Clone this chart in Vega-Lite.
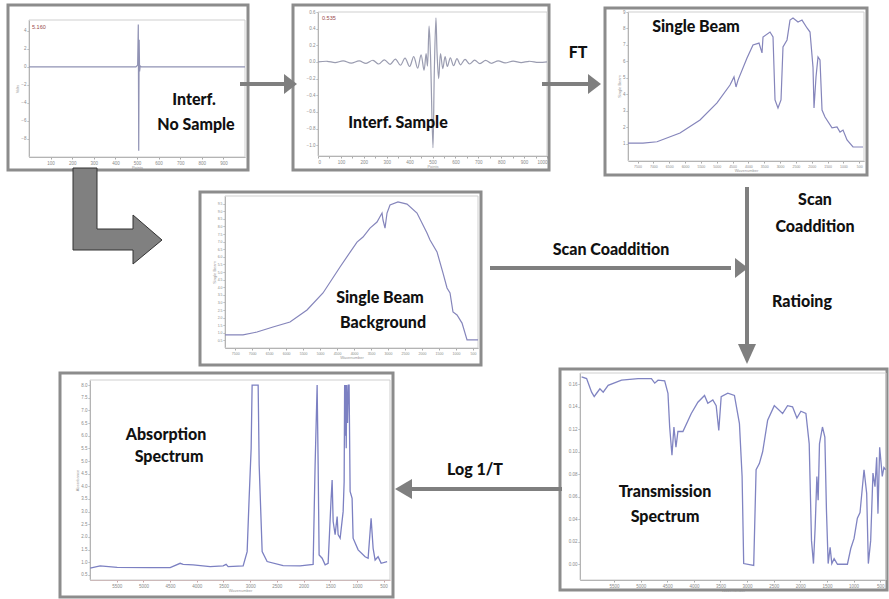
{
  "$schema": "https://vega.github.io/schema/vega-lite/v6.json",
  "width": 889,
  "height": 599,
  "autosize": {"type": "none"},
  "padding": 0,
  "background": "white",
  "config": {
    "view": {"stroke": null},
    "axis": {"labelFontSize": 4.5, "labelColor": "#8a8a8a", "tickColor": "#aaa", "domainColor": "#999", "tickSize": 2, "labelPadding": 1, "grid": false, "titleFontSize": 4, "titleColor": "#999", "titlePadding": 1, "labelFont": "Liberation Sans", "titleFont": "Liberation Sans", "titleFontWeight": "normal"}
  },
  "datasets": {
    "frames": [
      {"x": 8, "x2": 248, "y": 5, "y2": 170},
      {"x": 293, "x2": 549, "y": 5, "y2": 170},
      {"x": 605, "x2": 867, "y": 8, "y2": 175},
      {"x": 200, "x2": 481, "y": 192, "y2": 365},
      {"x": 60, "x2": 393, "y": 373, "y2": 597},
      {"x": 560, "x2": 887, "y": 369, "y2": 590}
    ],
    "plots": [
      {"x": 29, "x2": 245, "y": 20, "y2": 157},
      {"x": 318, "x2": 547, "y": 12, "y2": 156},
      {"x": 628, "x2": 864, "y": 12, "y2": 161},
      {"x": 225, "x2": 478, "y": 196, "y2": 348},
      {"x": 90, "x2": 390, "y": 380, "y2": 580},
      {"x": 580, "x2": 886, "y": 373, "y2": 580}
    ],
    "p1": [
      {"pt": 0, "v": 0}, {"pt": 495, "v": 0}, {"pt": 503, "v": 0.2}, {"pt": 506, "v": 4.7}, {"pt": 508, "v": -9.3},
      {"pt": 510, "v": 3.0}, {"pt": 512, "v": -0.5}, {"pt": 515, "v": 0.1}, {"pt": 520, "v": 0}, {"pt": 1000, "v": 0}
    ],
    "p2": [
      {"pt": 0, "v": 0}, {"pt": 40, "v": 0.008}, {"pt": 75, "v": -0.008}, {"pt": 110, "v": 0.012}, {"pt": 145, "v": -0.015},
      {"pt": 180, "v": 0.012}, {"pt": 210, "v": -0.018}, {"pt": 240, "v": 0.02}, {"pt": 265, "v": -0.025}, {"pt": 290, "v": 0.025},
      {"pt": 315, "v": -0.03}, {"pt": 338, "v": 0.035}, {"pt": 360, "v": -0.04}, {"pt": 380, "v": 0.045}, {"pt": 400, "v": -0.055},
      {"pt": 418, "v": 0.065}, {"pt": 435, "v": -0.075}, {"pt": 450, "v": 0.085}, {"pt": 463, "v": -0.1}, {"pt": 472, "v": 0.1},
      {"pt": 478, "v": -0.05}, {"pt": 485, "v": 0.43}, {"pt": 491, "v": 0.1}, {"pt": 502, "v": -1.03}, {"pt": 508, "v": -0.1},
      {"pt": 515, "v": 0.53}, {"pt": 520, "v": 0.1}, {"pt": 527, "v": -0.2}, {"pt": 535, "v": 0.1}, {"pt": 545, "v": -0.08},
      {"pt": 555, "v": 0.065}, {"pt": 565, "v": -0.055}, {"pt": 578, "v": 0.05}, {"pt": 592, "v": -0.045}, {"pt": 607, "v": 0.04},
      {"pt": 622, "v": -0.035}, {"pt": 642, "v": 0.03}, {"pt": 662, "v": -0.025}, {"pt": 684, "v": 0.022}, {"pt": 707, "v": -0.02},
      {"pt": 732, "v": 0.018}, {"pt": 757, "v": -0.016}, {"pt": 787, "v": 0.013}, {"pt": 817, "v": -0.012}, {"pt": 852, "v": 0.01},
      {"pt": 887, "v": -0.008}, {"pt": 922, "v": 0.008}, {"pt": 962, "v": -0.006}, {"pt": 1000, "v": 0}
    ],
    "p3": [
      {"wn": 7800, "v": 1.03}, {"wn": 7326, "v": 1.03}, {"wn": 6884, "v": 1.11}, {"wn": 6158, "v": 1.64}, {"wn": 5527, "v": 2.43},
      {"wn": 4990, "v": 3.47}, {"wn": 4580, "v": 4.56}, {"wn": 4454, "v": 5.05}, {"wn": 4390, "v": 4.44}, {"wn": 4327, "v": 4.86},
      {"wn": 4043, "v": 6.2}, {"wn": 3854, "v": 6.99}, {"wn": 3664, "v": 7.11}, {"wn": 3570, "v": 6.51}, {"wn": 3538, "v": 7.48},
      {"wn": 3317, "v": 7.78}, {"wn": 3222, "v": 7.48}, {"wn": 3159, "v": 3.65}, {"wn": 3065, "v": 3.16}, {"wn": 2970, "v": 3.65},
      {"wn": 2907, "v": 6.87}, {"wn": 2780, "v": 7.3}, {"wn": 2686, "v": 8.51}, {"wn": 2591, "v": 8.63}, {"wn": 2433, "v": 8.39},
      {"wn": 2307, "v": 8.51}, {"wn": 2149, "v": 8.03}, {"wn": 2054, "v": 7.78}, {"wn": 1960, "v": 5.65}, {"wn": 1928, "v": 3.16},
      {"wn": 1865, "v": 5.05}, {"wn": 1802, "v": 6.26}, {"wn": 1739, "v": 6.08}, {"wn": 1675, "v": 3.04}, {"wn": 1581, "v": 2.61},
      {"wn": 1360, "v": 1.95}, {"wn": 1202, "v": 2.01}, {"wn": 1107, "v": 1.7}, {"wn": 1012, "v": 1.82}, {"wn": 886, "v": 1.22},
      {"wn": 697, "v": 0.79}, {"wn": 381, "v": 0.79}
    ],
    "p4": [
      {"wn": 7800, "v": 0.86}, {"wn": 7270, "v": 0.86}, {"wn": 6858, "v": 1.05}, {"wn": 6386, "v": 1.38}, {"wn": 5886, "v": 1.71},
      {"wn": 5385, "v": 2.5}, {"wn": 4914, "v": 3.62}, {"wn": 4413, "v": 5.33}, {"wn": 3913, "v": 6.97}, {"wn": 3736, "v": 7.3},
      {"wn": 3530, "v": 7.89}, {"wn": 3324, "v": 8.29}, {"wn": 3176, "v": 8.88}, {"wn": 3147, "v": 8.42}, {"wn": 3088, "v": 7.89},
      {"wn": 3029, "v": 8.88}, {"wn": 2941, "v": 9.41}, {"wn": 2706, "v": 9.61}, {"wn": 2440, "v": 9.47}, {"wn": 2146, "v": 8.88},
      {"wn": 1852, "v": 7.57}, {"wn": 1763, "v": 7.11}, {"wn": 1557, "v": 6.32}, {"wn": 1380, "v": 4.93}, {"wn": 1262, "v": 3.95},
      {"wn": 1174, "v": 3.62}, {"wn": 1086, "v": 2.37}, {"wn": 968, "v": 2.17}, {"wn": 820, "v": 1.64}, {"wn": 673, "v": 0.53},
      {"wn": 350, "v": 0.53}
    ],
    "p5": [
      {"wn": 5997, "v": 0.77}, {"wn": 5810, "v": 0.86}, {"wn": 5491, "v": 0.8}, {"wn": 4873, "v": 0.79}, {"wn": 4498, "v": 0.79},
      {"wn": 4311, "v": 0.96}, {"wn": 4255, "v": 0.92}, {"wn": 4068, "v": 0.9}, {"wn": 3749, "v": 0.83}, {"wn": 3506, "v": 0.86},
      {"wn": 3450, "v": 0.92}, {"wn": 3412, "v": 0.83}, {"wn": 3131, "v": 0.86}, {"wn": 3056, "v": 1.42}, {"wn": 3019, "v": 3.53},
      {"wn": 2981, "v": 5.5}, {"wn": 2963, "v": 8.0}, {"wn": 2850, "v": 8.0}, {"wn": 2831, "v": 4.84}, {"wn": 2775, "v": 1.42},
      {"wn": 2682, "v": 1.03}, {"wn": 2382, "v": 0.87}, {"wn": 2064, "v": 0.86}, {"wn": 1820, "v": 0.92}, {"wn": 1783, "v": 4.84},
      {"wn": 1745, "v": 8.0}, {"wn": 1726, "v": 4.84}, {"wn": 1708, "v": 1.29}, {"wn": 1651, "v": 1.16}, {"wn": 1595, "v": 0.9},
      {"wn": 1539, "v": 0.96}, {"wn": 1483, "v": 3.53}, {"wn": 1464, "v": 4.25}, {"wn": 1445, "v": 2.61}, {"wn": 1408, "v": 2.09},
      {"wn": 1370, "v": 2.81}, {"wn": 1352, "v": 2.09}, {"wn": 1314, "v": 1.95}, {"wn": 1258, "v": 3.0}, {"wn": 1239, "v": 4.18},
      {"wn": 1230, "v": 8.0}, {"wn": 1221, "v": 6.0}, {"wn": 1212, "v": 8.0}, {"wn": 1200, "v": 5.5}, {"wn": 1190, "v": 8.0},
      {"wn": 1175, "v": 6.5}, {"wn": 1160, "v": 8.0}, {"wn": 1146, "v": 8.0}, {"wn": 1127, "v": 3.8}, {"wn": 1090, "v": 3.53},
      {"wn": 1071, "v": 1.95}, {"wn": 977, "v": 1.49}, {"wn": 846, "v": 1.22}, {"wn": 790, "v": 1.16}, {"wn": 734, "v": 2.74},
      {"wn": 696, "v": 1.55}, {"wn": 659, "v": 1.09}, {"wn": 603, "v": 1.22}, {"wn": 546, "v": 0.96}, {"wn": 434, "v": 1.03}
    ],
    "p6": [
      {"wn": 6110, "v": 0.1665}, {"wn": 6016, "v": 0.165}, {"wn": 5922, "v": 0.153}, {"wn": 5873, "v": 0.149}, {"wn": 5828, "v": 0.152},
      {"wn": 5766, "v": 0.156}, {"wn": 5704, "v": 0.153}, {"wn": 5611, "v": 0.159}, {"wn": 5360, "v": 0.1636}, {"wn": 5049, "v": 0.165},
      {"wn": 4798, "v": 0.165}, {"wn": 4736, "v": 0.161}, {"wn": 4674, "v": 0.1636}, {"wn": 4549, "v": 0.163}, {"wn": 4487, "v": 0.152},
      {"wn": 4455, "v": 0.122}, {"wn": 4412, "v": 0.097}, {"wn": 4375, "v": 0.122}, {"wn": 4337, "v": 0.104}, {"wn": 4300, "v": 0.118},
      {"wn": 4206, "v": 0.118}, {"wn": 4049, "v": 0.134}, {"wn": 3925, "v": 0.144}, {"wn": 3800, "v": 0.15}, {"wn": 3738, "v": 0.143},
      {"wn": 3644, "v": 0.146}, {"wn": 3581, "v": 0.141}, {"wn": 3532, "v": 0.119}, {"wn": 3487, "v": 0.149}, {"wn": 3363, "v": 0.152},
      {"wn": 3238, "v": 0.15}, {"wn": 3144, "v": 0.125}, {"wn": 3094, "v": 0.078}, {"wn": 3064, "v": 0.0006}, {"wn": 2876, "v": -0.001},
      {"wn": 2831, "v": 0.084}, {"wn": 2770, "v": 0.0895}, {"wn": 2708, "v": 0.1}, {"wn": 2614, "v": 0.128}, {"wn": 2489, "v": 0.141},
      {"wn": 2333, "v": 0.134}, {"wn": 2240, "v": 0.141}, {"wn": 2146, "v": 0.14}, {"wn": 2064, "v": 0.13}, {"wn": 1989, "v": 0.136},
      {"wn": 1895, "v": 0.134}, {"wn": 1833, "v": 0.107}, {"wn": 1790, "v": 0.021}, {"wn": 1753, "v": 0.0006}, {"wn": 1721, "v": 0.033},
      {"wn": 1689, "v": 0.078}, {"wn": 1665, "v": 0.057}, {"wn": 1640, "v": 0.107}, {"wn": 1584, "v": 0.122}, {"wn": 1539, "v": 0.113},
      {"wn": 1509, "v": 0.048}, {"wn": 1477, "v": 0.0006}, {"wn": 1440, "v": 0.015}, {"wn": 1408, "v": 0.0006}, {"wn": 1365, "v": 0.005},
      {"wn": 1302, "v": 0.0}, {"wn": 1115, "v": 0.0}, {"wn": 1052, "v": 0.014}, {"wn": 990, "v": 0.023}, {"wn": 928, "v": 0.041},
      {"wn": 878, "v": 0.046}, {"wn": 803, "v": 0.084}, {"wn": 753, "v": 0.063}, {"wn": 722, "v": 0.0006}, {"wn": 678, "v": 0.021},
      {"wn": 635, "v": 0.081}, {"wn": 597, "v": 0.069}, {"wn": 565, "v": 0.095}, {"wn": 541, "v": 0.045}, {"wn": 509, "v": 0.104},
      {"wn": 460, "v": 0.078}, {"wn": 429, "v": 0.086}, {"wn": 397, "v": 0.084}
    ],
    "shafts": [
      {"x": 240, "y": 84, "x2": 287, "y2": 84},
      {"x": 542, "y": 84, "x2": 591, "y2": 84},
      {"x": 747, "y": 187, "x2": 747, "y2": 346},
      {"x": 490, "y": 268, "x2": 731, "y2": 268},
      {"x": 562, "y": 489, "x2": 410, "y2": 489}
    ],
    "headsRight": [
      {"x": 297, "y": 84},
      {"x": 601, "y": 84},
      {"x": 748, "y": 268}
    ],
    "headsDown": [{"x": 747, "y": 364}],
    "headsLeft": [{"x": 395, "y": 489}],
    "bigArrow": [{"x": 120, "y": 216}],
    "labels": [
      {"x": 194, "y": 100, "t": "Interf."},
      {"x": 196, "y": 125, "t": "No Sample"},
      {"x": 398, "y": 123, "t": "Interf. Sample"},
      {"x": 578, "y": 53, "t": "FT"},
      {"x": 696, "y": 27, "t": "Single Beam"},
      {"x": 815, "y": 200, "t": "Scan"},
      {"x": 815, "y": 227, "t": "Coaddition"},
      {"x": 802, "y": 302, "t": "Ratioing"},
      {"x": 611, "y": 250, "t": "Scan Coaddition"},
      {"x": 380, "y": 298, "t": "Single Beam"},
      {"x": 383, "y": 323, "t": "Background"},
      {"x": 475, "y": 470, "t": "Log 1/T"},
      {"x": 166, "y": 435, "t": "Absorption"},
      {"x": 169, "y": 457, "t": "Spectrum"},
      {"x": 665, "y": 492, "t": "Transmission"},
      {"x": 665, "y": 517, "t": "Spectrum"}
    ],
    "smallLabels": [
      {"x": 32, "y": 27, "t": "5.160"},
      {"x": 322, "y": 18, "t": "0.535"}
    ]
  },
  "layer": [
    {
      "data": {"name": "frames"},
      "mark": {"type": "rect", "filled": false, "stroke": "#8c8c8c", "strokeWidth": 3},
      "encoding": {
        "x": {"field": "x", "type": "quantitative", "scale": {"domain": [0, 889], "range": [0, 889], "nice": false, "zero": false}, "axis": null},
        "x2": {"field": "x2"},
        "y": {"field": "y", "type": "quantitative", "scale": {"domain": [0, 599], "range": [0, 599], "nice": false, "zero": false}, "axis": null},
        "y2": {"field": "y2"}
      }
    },
    {
      "data": {"name": "plots"},
      "mark": {"type": "rect", "filled": false, "stroke": "#cfcfcf", "strokeWidth": 1},
      "encoding": {
        "x": {"field": "x", "type": "quantitative", "scale": {"domain": [0, 889], "range": [0, 889], "nice": false, "zero": false}, "axis": null},
        "x2": {"field": "x2"},
        "y": {"field": "y", "type": "quantitative", "scale": {"domain": [0, 599], "range": [0, 599], "nice": false, "zero": false}, "axis": null},
        "y2": {"field": "y2"}
      }
    },
    {
      "data": {"name": "p1"},
      "mark": {"type": "line", "color": "#9092b4", "strokeWidth": 1.2},
      "encoding": {
        "x": {"field": "pt", "type": "quantitative", "scale": {"domain": [0, 1000], "range": [29, 245], "nice": false, "zero": false}, "axis": {"orient": "bottom", "offset": -442, "values": [100, 200, 300, 400, 500, 600, 700, 800, 900], "title": "Points"}},
        "y": {"field": "v", "type": "quantitative", "scale": {"domain": [-10, 5.2], "range": [157, 20], "nice": false, "zero": false}, "axis": {"orient": "left", "offset": -29, "values": [-8, -6, -4, -2, 0, 2, 4], "title": "Volts"}}
      }
    },
    {
      "data": {"name": "p2"},
      "mark": {"type": "line", "color": "#9a9cb0", "strokeWidth": 1.2, "interpolate": "catmull-rom"},
      "encoding": {
        "x": {"field": "pt", "type": "quantitative", "scale": {"domain": [0, 1000], "range": [318, 547], "nice": false, "zero": false}, "axis": {"orient": "bottom", "offset": -443, "tickCount": 18, "format": "d", "title": "Points"}},
        "y": {"field": "v", "type": "quantitative", "scale": {"domain": [-1.13, 0.6], "range": [156, 12], "nice": false, "zero": false}, "axis": {"orient": "left", "offset": -318, "values": [-1, -0.8, -0.6, -0.4, -0.2, 0, 0.2, 0.4, 0.6], "format": ".1f", "title": null}}
      }
    },
    {
      "data": {"name": "p3"},
      "mark": {"type": "line", "color": "#8585bb", "strokeWidth": 1.2},
      "encoding": {
        "x": {"field": "wn", "type": "quantitative", "scale": {"domain": [350, 7800], "range": [864, 628], "nice": false, "zero": false}, "axis": {"orient": "bottom", "offset": -438, "values": [7500, 7000, 6500, 6000, 5500, 5000, 4500, 4000, 3500, 3000, 2500, 2000, 1500, 1000, 500], "format": "d", "labelOverlap": false, "labelFontSize": 3.5, "title": "Wavenumber"}},
        "y": {"field": "v", "type": "quantitative", "scale": {"domain": [0, 9], "range": [160, 12], "nice": false, "zero": false}, "axis": {"orient": "left", "offset": -628, "values": [1, 2, 3, 4, 5, 6, 7, 8, 9], "title": "Single Beam"}}
      }
    },
    {
      "data": {"name": "p4"},
      "mark": {"type": "line", "color": "#8585bb", "strokeWidth": 1.2},
      "encoding": {
        "x": {"field": "wn", "type": "quantitative", "scale": {"domain": [350, 7800], "range": [478, 225], "nice": false, "zero": false}, "axis": {"orient": "bottom", "offset": -251, "values": [7500, 7000, 6500, 6000, 5500, 5000, 4500, 4000, 3500, 3000, 2500, 2000, 1500, 1000, 500], "format": "d", "labelOverlap": false, "labelFontSize": 3.5, "title": "Wavenumber"}},
        "y": {"field": "v", "type": "quantitative", "scale": {"domain": [0, 10], "range": [348, 196], "nice": false, "zero": false}, "axis": {"orient": "left", "offset": -225, "values": [0.5, 1, 1.5, 2, 2.5, 3, 3.5, 4, 4.5, 5, 5.5, 6, 6.5, 7, 7.5, 8, 8.5, 9, 9.5], "format": ".1f", "labelOverlap": false, "labelFontSize": 3.5, "title": "Single Beam"}}
      }
    },
    {
      "data": {"name": "p5"},
      "mark": {"type": "line", "color": "#7c80c2", "strokeWidth": 1.3},
      "encoding": {
        "x": {"field": "wn", "type": "quantitative", "scale": {"domain": [380, 6000], "range": [390, 90], "nice": false, "zero": false}, "axis": {"orient": "bottom", "offset": -19, "values": [5500, 5000, 4500, 4000, 3500, 3000, 2500, 2000, 1500, 1000, 500], "format": "d", "domainColor": "#c9a3a3", "tickColor": "#c9a3a3", "title": "Wavenumber"}},
        "y": {"field": "v", "type": "quantitative", "scale": {"domain": [0.3, 8.2], "range": [580, 380], "nice": false, "zero": false}, "axis": {"orient": "left", "offset": -90, "values": [0.5, 1, 1.5, 2, 2.5, 3, 3.5, 4, 4.5, 5, 5.5, 6, 6.5, 7, 7.5, 8], "format": ".1f", "labelOverlap": false, "title": "Absorbance"}}
      }
    },
    {
      "data": {"name": "p6"},
      "mark": {"type": "line", "color": "#8084c2", "strokeWidth": 1.3},
      "encoding": {
        "x": {"field": "wn", "type": "quantitative", "scale": {"domain": [390, 6140], "range": [886, 580], "nice": false, "zero": false}, "axis": {"orient": "bottom", "offset": -19, "values": [5500, 5000, 4500, 4000, 3500, 3000, 2500, 2000, 1500, 1000, 500], "format": "d", "title": "Wavenumber"}},
        "y": {"field": "v", "type": "quantitative", "scale": {"domain": [-0.014, 0.17], "range": [580, 373], "nice": false, "zero": false}, "axis": {"orient": "left", "offset": -580, "values": [0, 0.02, 0.04, 0.06, 0.08, 0.1, 0.12, 0.14, 0.16], "format": ".2f", "title": null}}
      }
    },
    {
      "data": {"name": "shafts"},
      "mark": {"type": "rule", "color": "#7f7f7f", "strokeWidth": 4},
      "encoding": {
        "x": {"field": "x", "type": "quantitative", "scale": {"domain": [0, 889], "range": [0, 889], "nice": false, "zero": false}, "axis": null},
        "x2": {"field": "x2"},
        "y": {"field": "y", "type": "quantitative", "scale": {"domain": [0, 599], "range": [0, 599], "nice": false, "zero": false}, "axis": null},
        "y2": {"field": "y2"}
      }
    },
    {
      "data": {"name": "headsRight"},
      "mark": {"type": "point", "shape": "M-13,-10L0,0L-13,10Z", "size": 4, "filled": true, "color": "#7f7f7f", "opacity": 1, "strokeWidth": 0},
      "encoding": {
        "x": {"field": "x", "type": "quantitative", "scale": {"domain": [0, 889], "range": [0, 889], "nice": false, "zero": false}, "axis": null},
        "y": {"field": "y", "type": "quantitative", "scale": {"domain": [0, 599], "range": [0, 599], "nice": false, "zero": false}, "axis": null}
      }
    },
    {
      "data": {"name": "headsDown"},
      "mark": {"type": "point", "shape": "M-9,-20L0,0L9,-20Z", "size": 4, "filled": true, "color": "#7f7f7f", "opacity": 1, "strokeWidth": 0},
      "encoding": {
        "x": {"field": "x", "type": "quantitative", "scale": {"domain": [0, 889], "range": [0, 889], "nice": false, "zero": false}, "axis": null},
        "y": {"field": "y", "type": "quantitative", "scale": {"domain": [0, 599], "range": [0, 599], "nice": false, "zero": false}, "axis": null}
      }
    },
    {
      "data": {"name": "headsLeft"},
      "mark": {"type": "point", "shape": "M17,-10L0,0L17,10Z", "size": 4, "filled": true, "color": "#7f7f7f", "opacity": 1, "strokeWidth": 0},
      "encoding": {
        "x": {"field": "x", "type": "quantitative", "scale": {"domain": [0, 889], "range": [0, 889], "nice": false, "zero": false}, "axis": null},
        "y": {"field": "y", "type": "quantitative", "scale": {"domain": [0, 599], "range": [0, 599], "nice": false, "zero": false}, "axis": null}
      }
    },
    {
      "data": {"name": "bigArrow"},
      "mark": {"type": "point", "shape": "M-47,-48L-23,-48L-23,13L13,13L13,-1L42,24L13,48L13,34L-47,34Z", "size": 4, "filled": true, "fill": "#808080", "stroke": "#333333", "strokeWidth": 1, "opacity": 1},
      "encoding": {
        "x": {"field": "x", "type": "quantitative", "scale": {"domain": [0, 889], "range": [0, 889], "nice": false, "zero": false}, "axis": null},
        "y": {"field": "y", "type": "quantitative", "scale": {"domain": [0, 599], "range": [0, 599], "nice": false, "zero": false}, "axis": null}
      }
    },
    {
      "data": {"name": "labels"},
      "mark": {"type": "text", "font": "Lato", "fontWeight": 900, "fontSize": 16, "color": "#111111", "align": "center", "baseline": "middle"},
      "encoding": {
        "x": {"field": "x", "type": "quantitative", "scale": {"domain": [0, 889], "range": [0, 889], "nice": false, "zero": false}, "axis": null},
        "y": {"field": "y", "type": "quantitative", "scale": {"domain": [0, 599], "range": [0, 599], "nice": false, "zero": false}, "axis": null},
        "text": {"field": "t"}
      }
    },
    {
      "data": {"name": "smallLabels"},
      "mark": {"type": "text", "font": "Liberation Sans", "fontSize": 5.5, "color": "#9a4a4a", "align": "left", "baseline": "middle"},
      "encoding": {
        "x": {"field": "x", "type": "quantitative", "scale": {"domain": [0, 889], "range": [0, 889], "nice": false, "zero": false}, "axis": null},
        "y": {"field": "y", "type": "quantitative", "scale": {"domain": [0, 599], "range": [0, 599], "nice": false, "zero": false}, "axis": null},
        "text": {"field": "t"}
      }
    }
  ],
  "resolve": {"scale": {"x": "independent", "y": "independent"}}
}
